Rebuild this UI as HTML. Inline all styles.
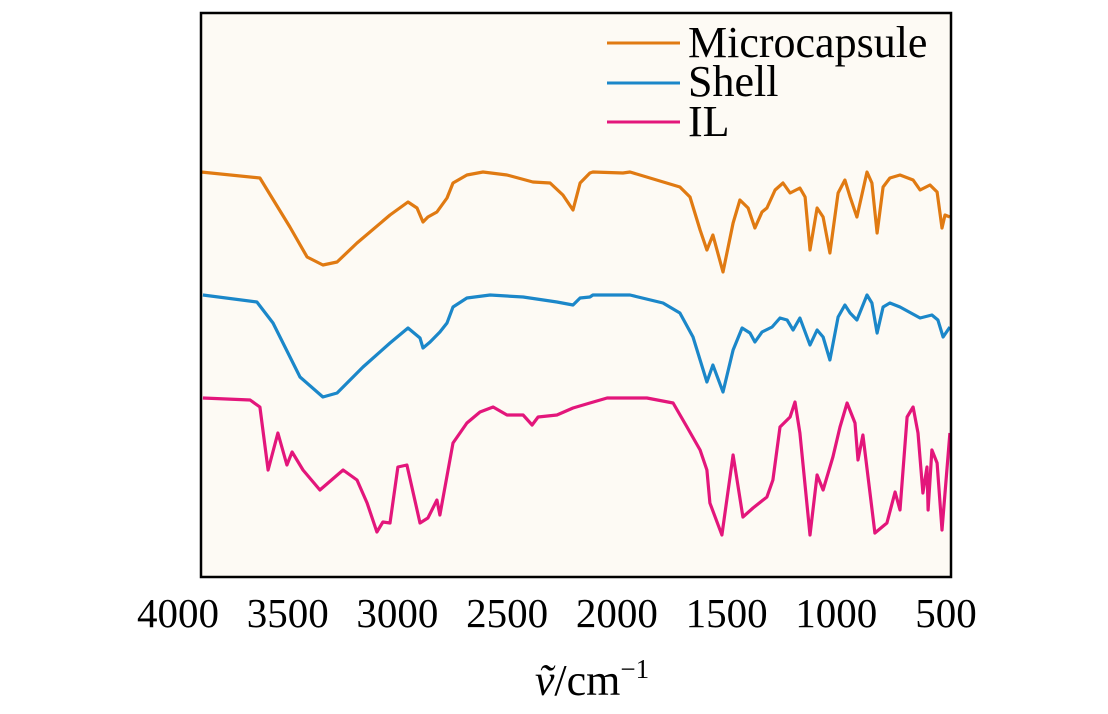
<!DOCTYPE html>
<html><head><meta charset="utf-8"><style>
html,body{margin:0;padding:0;background:#fff;}
svg text{font-family:"Liberation Serif",serif;}
</style></head><body>
<svg id="chart" width="1108" height="709" viewBox="0 0 1108 709" xmlns="http://www.w3.org/2000/svg">
<rect x="201" y="13" width="750" height="564" fill="#fdfaf4"/>
<g id="series"></g>
<rect x="201" y="13" width="750" height="564" fill="none" stroke="#000" stroke-width="2.5"/>
<g id="ticks"></g>
<text x="592" y="695" font-size="44" text-anchor="middle"><tspan font-style="italic">ṽ</tspan>/cm<tspan font-size="27" dy="-17">−1</tspan></text>
<g>
<line x1="607" y1="43" x2="680" y2="43" stroke="#e07a12" stroke-width="3"/>
<text x="688" y="57" font-size="44">Microcapsule</text>
<line x1="607" y1="83" x2="680" y2="83" stroke="#1b87c9" stroke-width="3"/>
<text x="688" y="96" font-size="44">Shell</text>
<line x1="607" y1="122" x2="680" y2="122" stroke="#e3167b" stroke-width="3"/>
<text x="688" y="136" font-size="44">IL</text>
</g>
</svg>
<script>
const xTicks = [4000,3500,3000,2500,2000,1500,1000,500];
const microW = [4000,3725,3585,3505,3431,3365,3272,3118,3034,2992,2964,2941,2899,2852,2824,2759,2684,2572,2451,2371,2311,2264,2231,2185,2171,2031,1998,1765,1718,1671,1639,1611,1564,1517,1485,1447,1415,1382,1359,1321,1284,1251,1205,1181,1158,1125,1097,1065,1027,995,971,939,892,869,845,817,785,738,677,644,598,565,542,528,505];
const microT = [405,399,350,320,312,315,334,362,375,369,355,360,365,379,394,402,405,402,395,394,382,367,394,404,405,404,405,390,380,347,327,342,305,354,377,369,349,365,369,387,394,384,389,380,327,369,360,324,384,397,380,360,405,394,344,390,399,402,397,387,392,385,349,362,360];
const shellW = [3991,3739,3664,3538,3431,3365,3244,3118,3034,2978,2964,2931,2885,2852,2824,2759,2651,2497,2339,2264,2231,2185,2171,1998,1844,1765,1704,1639,1611,1564,1517,1475,1438,1415,1382,1335,1298,1265,1237,1205,1158,1125,1097,1065,1027,995,971,939,892,869,845,817,785,738,644,589,561,537,505];
const shellT = [282,275,254,200,180,184,210,234,249,239,229,235,245,254,270,279,282,280,275,272,279,280,282,282,274,264,240,195,212,185,227,249,244,235,245,250,259,257,247,259,232,247,240,217,260,272,264,257,282,274,244,270,274,270,259,262,257,240,250];
const ilW = [3991,3771,3725,3687,3641,3599,3575,3524,3445,3337,3272,3225,3179,3151,3118,3081,3039,2978,2941,2899,2885,2824,2759,2698,2637,2572,2497,2455,2427,2339,2264,2185,2105,1919,1797,1732,1671,1639,1625,1569,1517,1471,1424,1359,1331,1298,1251,1228,1205,1158,1125,1097,1051,1018,985,948,934,911,855,799,761,738,705,677,654,631,612,607,589,565,542,505];
const ilT = [179,177,170,107,144,112,125,107,87,107,97,74,45,55,54,110,112,54,59,77,62,134,154,165,170,162,162,152,160,162,169,174,179,179,174,150,127,107,74,42,122,60,69,80,97,150,160,175,144,42,102,87,120,150,174,154,117,142,44,54,85,67,160,170,144,84,110,67,127,114,47,144];

const X0=201,X1=951,Y0=577,Y1=13;
function xs(w){return X0+(4000-w)/3500*(X1-X0);}
function xl(w){return 178+(4000-w)/3500*768;}
function ys(v){return Y0-v/564*(Y0-Y1);}
const NS="http://www.w3.org/2000/svg";
const g=document.getElementById('series');
function draw(W,T,color,name){
  const p=document.createElementNS(NS,'path');
  let d='';
  for(let i=0;i<W.length;i++){d+=(i?'L':'M')+xs(W[i]).toFixed(1)+' '+ys(T[i]).toFixed(1);}
  p.setAttribute('d',d);
  p.setAttribute('fill','none');
  p.setAttribute('stroke',color);
  p.setAttribute('stroke-width','3.2');
  p.setAttribute('stroke-linejoin','round');
  
  
  g.appendChild(p);
}
draw(microW,microT,'#e07a12','microcapsule-line');
draw(shellW,shellT,'#1b87c9','shell-line');
draw(ilW,ilT,'#e3167b','il-line');
const tg=document.getElementById('ticks');
xTicks.forEach(v=>{
  const t=document.createElementNS(NS,'text');
  t.setAttribute('x',xl(v));
  t.setAttribute('y',627);
  t.setAttribute('font-size','41');
  t.setAttribute('text-anchor','middle');
  t.textContent=v;
  
  
  tg.appendChild(t);
});
</script>
</body></html>
